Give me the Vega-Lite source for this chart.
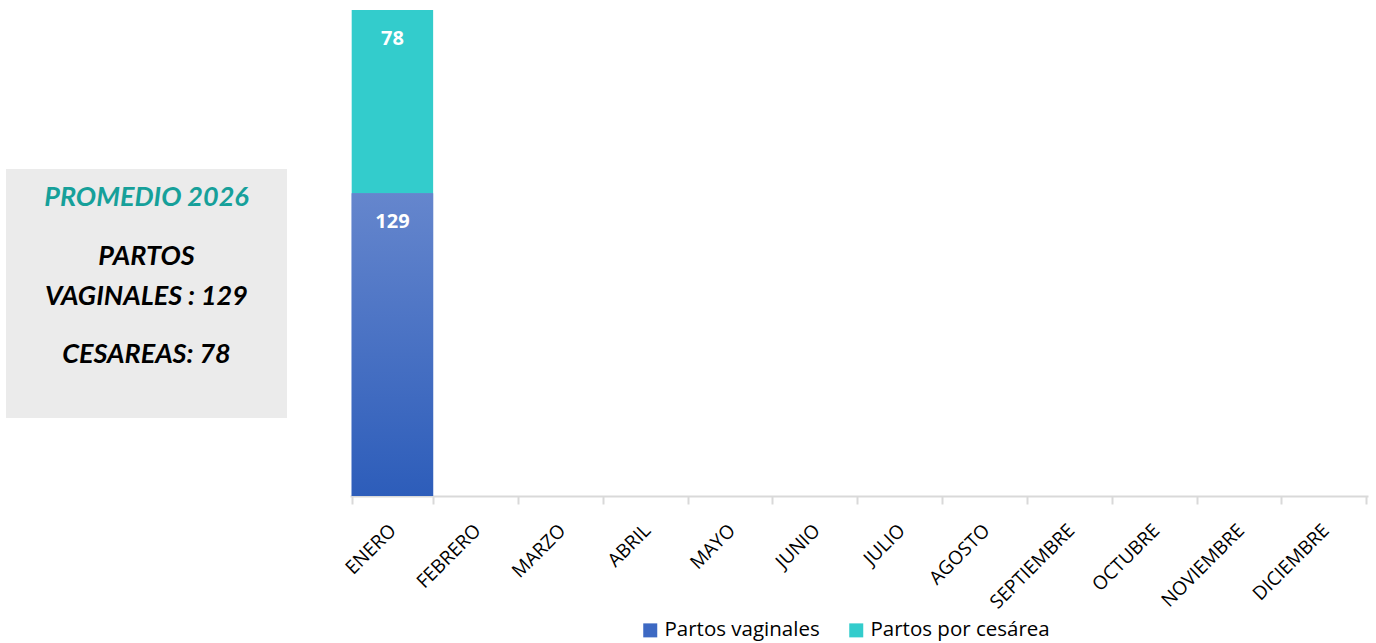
{
  "$schema": "https://vega.github.io/schema/vega-lite/v6.json",
  "padding": {"left": 6, "top": 10, "right": 2, "bottom": 0},
  "background": "white",
  "bounds": "flush",
  "spacing": 63,
  "config": {"view": {"stroke": null}},
  "hconcat": [
    {
      "width": 281,
      "height": 486,
      "data": {"values": [
        {"kind": "box", "line": "", "x0": 0, "x1": 1, "top": 159, "bottom": 408},
        {"kind": "title", "line": "PROMEDIO 2026", "x0": 0.5, "top": 188},
        {"kind": "body", "line": "PARTOS", "x0": 0.5, "top": 247},
        {"kind": "body", "line": "VAGINALES : 129", "x0": 0.5, "top": 287},
        {"kind": "body", "line": " CESAREAS: 78", "x0": 0.5, "top": 345}
      ]},
      "encoding": {
        "x": {"field": "x0", "type": "quantitative", "scale": {"domain": [0, 1]}, "axis": null},
        "y": {"field": "top", "type": "quantitative", "scale": {"domain": [0, 486], "reverse": true}, "axis": null}
      },
      "layer": [
        {
          "transform": [{"filter": "datum.kind === 'box'"}],
          "mark": {"type": "rect", "color": "#ebebeb"},
          "encoding": {"x2": {"field": "x1"}, "y2": {"field": "bottom"}}
        },
        {
          "transform": [{"filter": "datum.kind === 'title'"}],
          "mark": {"type": "text", "font": "Lato", "fontSize": 27, "fontWeight": "bold", "fontStyle": "italic", "align": "center", "baseline": "middle", "color": "#16a09a"},
          "encoding": {"text": {"field": "line"}}
        },
        {
          "transform": [{"filter": "datum.kind === 'body'"}],
          "mark": {"type": "text", "font": "Lato", "fontSize": 27, "fontWeight": "bold", "fontStyle": "italic", "align": "center", "baseline": "middle", "color": "#000000"},
          "encoding": {"text": {"field": "line"}}
        }
      ]
    },
    {
      "width": 1018,
      "height": 486,
      "data": {"values": [
        {"mes": "ENERO", "serie": "Partos vaginales", "valor": 129, "orden": 1},
        {"mes": "ENERO", "serie": "Partos por cesárea", "valor": 78, "orden": 2}
      ]},
      "encoding": {
        "x": {
          "field": "mes", "type": "nominal",
          "scale": {"domain": ["ENERO", "FEBRERO", "MARZO", "ABRIL", "MAYO", "JUNIO", "JULIO", "AGOSTO", "SEPTIEMBRE", "OCTUBRE", "NOVIEMBRE", "DICIEMBRE"], "paddingInner": 0.04, "paddingOuter": 0.02},
          "axis": {"title": null, "labelAngle": -45, "labelAlign": "right", "labelBaseline": "middle", "labelFont": "Open Sans", "labelFontSize": 19, "labelColor": "#000000", "labelPadding": 23, "domainColor": "#d9d9d9", "domainWidth": 2, "tickColor": "#d9d9d9", "tickWidth": 2, "tickSize": 8, "tickBand": "extent", "labelLimit": 300}
        },
        "y": {"field": "valor", "type": "quantitative", "stack": "zero", "scale": {"domain": [0, 207], "nice": false}, "axis": null},
        "order": {"field": "orden", "type": "quantitative"}
      },
      "layer": [
        {
          "mark": {"type": "bar"},
          "encoding": {
            "color": {"field": "serie", "type": "nominal",
              "scale": {"domain": ["Partos vaginales", "Partos por cesárea"], "range": ["#3d69c3", "#33cccc"]},
              "legend": {"title": null, "orient": "none", "legendX": 634, "legendY": 610, "direction": "horizontal", "symbolType": "square", "symbolSize": 196, "symbolStrokeWidth": 0, "labelFont": "Open Sans", "labelFontSize": 20.5, "labelColor": "#000000", "labelLimit": 400, "columnPadding": 26}
            }
          }
        },
        {
          "transform": [{"filter": "datum.serie === 'Partos vaginales'"}],
          "mark": {"type": "bar", "color": {"gradient": "linear", "x1": 0, "y1": 0, "x2": 0, "y2": 1, "stops": [{"offset": 0, "color": "#6586cd"}, {"offset": 1, "color": "#2d5dba"}]}},
          "encoding": {}
        },
        {
          "mark": {"type": "text", "color": "white", "font": "Open Sans", "fontSize": 20, "fontWeight": "bold", "baseline": "middle", "dy": 29},
          "encoding": {"text": {"field": "valor", "type": "quantitative"}}
        }
      ]
    }
  ]
}
